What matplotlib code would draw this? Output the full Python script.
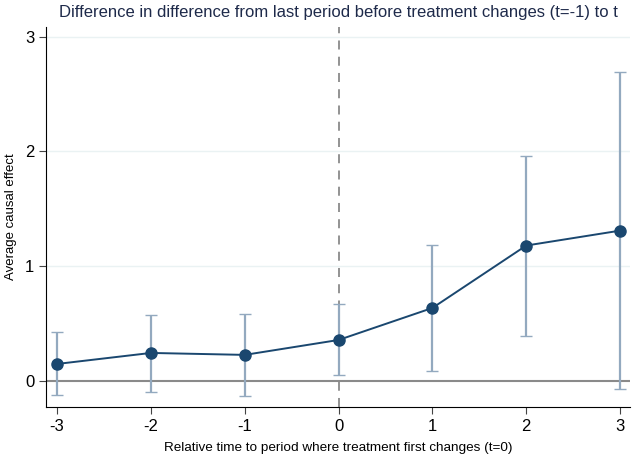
import matplotlib
matplotlib.use("Agg")
import matplotlib.pyplot as plt

periods = [-3, -2, -1, 0, 1, 2, 3]
effect = [0.148, 0.244, 0.227, 0.357, 0.636, 1.18, 1.31]
ci_low = [-0.12, -0.096, -0.13, 0.05, 0.087, 0.39, -0.07]
ci_high = [0.43, 0.575, 0.584, 0.67, 1.186, 1.96, 2.69]

plt.rcParams['font.family'] = ['Liberation Sans', 'DejaVu Sans']
plt.rcParams['axes.unicode_minus'] = False

navy = "#1a476f"
fig = plt.figure(figsize=(6.32, 4.63), dpi=100)
ax = fig.add_axes([0.073, 0.121, 0.924, 0.821])

for y in [1, 2, 3]:
    ax.axhline(y, color="#eaf2f3", lw=1, zorder=0)
ax.axhline(0, color="#8a8a8a", lw=1.5, zorder=1)
ax.axvline(0, color="#8a8a8a", lw=1.3, ls=(0, (5, 4)), zorder=1)

err = [[e - l for e, l in zip(effect, ci_low)], [h - e for e, h in zip(effect, ci_high)]]
ax.errorbar(periods, effect, yerr=err, fmt="none", ecolor="#93a9bf", elinewidth=1.6,
            capsize=4, capthick=1.0, zorder=2)
ax.plot(periods, effect, color=navy, lw=1.4, marker="o", ms=8, zorder=3)

ax.set_xlim(-3.117, 3.107)
ax.set_ylim(-0.227, 3.086)
ax.set_xticks(periods)
ax.set_yticks([0, 1, 2, 3])
ax.tick_params(labelsize=12, length=5, color="#444444")
for s in ["top", "right"]:
    ax.spines[s].set_visible(False)

ax.set_title("Difference in difference from last period before treatment changes (t=-1) to t",
             fontsize=12, color="#1e2a4a", pad=7)
ax.set_xlabel("Relative time to period where treatment first changes (t=0)", fontsize=9.7, labelpad=6)
ax.set_ylabel("Average causal effect", fontsize=9.5, labelpad=6)

fig.savefig("out.png", dpi=100)
